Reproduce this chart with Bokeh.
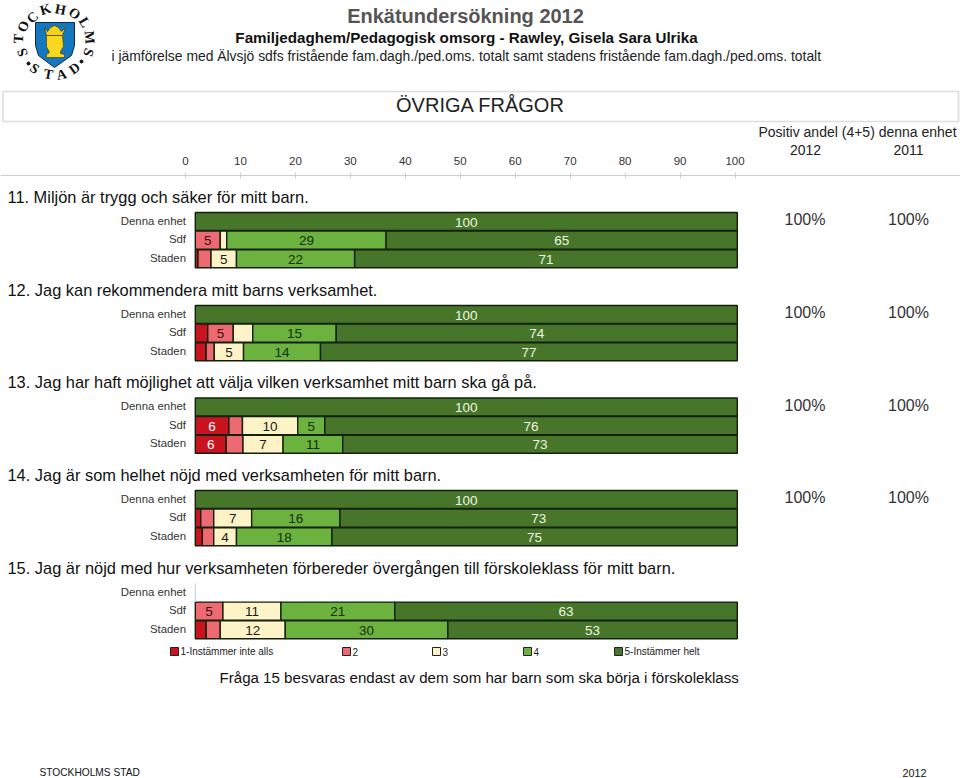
import math
from bokeh.plotting import figure
from bokeh.models import Range1d, LinearAxis, ColumnDataSource, FixedTicker
from bokeh.core.properties import value
from bokeh.embed import file_html
from bokeh.resources import INLINE

# ---- data ----
LEVELS = ["1-Instämmer inte alls", "2", "3", "4", "5-Instämmer helt"]
QUESTIONS = [
    "11. Miljön är trygg och säker för mitt barn.",
    "12. Jag kan rekommendera mitt barns verksamhet.",
    "13. Jag har haft möjlighet att välja vilken verksamhet mitt barn ska gå på.",
    "14. Jag är som helhet nöjd med verksamheten för mitt barn.",
    "15. Jag är nöjd med hur verksamheten förbereder övergången till förskoleklass för mitt barn.",
]
ROWS = ["Denna enhet", "Sdf", "Staden"]
DENNA = [
    [0, 0, 0, 0, 100],
    [0, 0, 0, 0, 100],
    [0, 0, 0, 0, 100],
    [0, 0, 0, 0, 100],
    None,
]
SDF = [
    [0, 4.6, 1.2, 29.4, 64.8],
    [2.3, 4.7, 3.6, 15.4, 74.0],
    [6.2, 2.5, 10.2, 5.0, 76.1],
    [1.0, 2.4, 7.0, 16.3, 73.3],
    [0, 5.1, 10.7, 21.0, 63.2],
]
STADEN = [
    [0.5, 2.4, 4.7, 21.8, 70.6],
    [2.0, 1.5, 5.4, 14.2, 76.9],
    [5.7, 3.1, 7.4, 11.0, 72.8],
    [1.3, 2.1, 4.2, 17.6, 74.8],
    [2.0, 2.6, 12.0, 30.0, 53.4],
]
POS_2012 = ["100%", "100%", "100%", "100%", None]
POS_2011 = ["100%", "100%", "100%", "100%", None]
AXIS_TICKS = [0, 10, 20, 30, 40, 50, 60, 70, 80, 90, 100]

# ---- style / layout ----
COLORS = ["#c9141f", "#ee6a72", "#fdf3c6", "#6cb23e", "#47762a"]
LABEL_COLORS = ["#ffffff", "#3a1010", "#1a1a1a", "#12300a", "#eef5e0"]
EDGE = "#12200c"
W, H = 960, 778
FONT = value("Liberation Sans")
X0, PX_PER = 194.8, 5.42
AX0, AX_PER = 185.0, 5.495
Q_Y = [197, 290, 382.5, 475, 568]
FIRST_ROW = [221, 314, 406.5, 499, 592]
ROW_H = 18.6

p = figure(width=W, height=H, output_backend="svg", toolbar_location=None,
           x_range=Range1d(-X0 / PX_PER, (W - X0) / PX_PER),
           y_range=Range1d(H, 0),
           x_axis_location=None, y_axis_location=None,
           min_border=0, min_border_left=0, min_border_right=0,
           min_border_top=0, min_border_bottom=0, margin=0)
p.extra_x_ranges = {"px": Range1d(0, W),
                    "axis": Range1d(-AX0 / AX_PER, (W - AX0) / AX_PER)}
p.grid.visible = False
p.outline_line_color = None
p.background_fill_color = "#ffffff"


def txt(x, y, s, size, color="#111111", align="left", style="normal", font=FONT, angle=0):
    p.text(x=[x], y=[y - 1], text=[s], x_range_name="px", text_font=font,
           text_font_size=f"{size}px", text_color=color, text_align=align,
           text_baseline="middle", text_font_style=style, angle=[angle])


# header
txt(465, 16, "Enkätundersökning 2012", 20, "#555555", "center", "bold")
txt(466, 37.5, "Familjedaghem/Pedagogisk omsorg - Rawley, Gisela Sara Ulrika", 15.2, "#111111", "center", "bold")
txt(111, 56, "i jämförelse med Älvsjö sdfs fristående fam.dagh./ped.oms. totalt samt stadens fristående fam.dagh./ped.oms. totalt", 13.9, "#222222")
p.quad(left=[2.5], right=[958], top=[91], bottom=[121], x_range_name="px",
       fill_color="#ffffff", line_color="#dddddd", line_width=1.6)
txt(480, 105, "ÖVRIGA FRÅGOR", 20, "#222222", "center")
txt(857, 132.5, "Positiv andel (4+5) denna enhet", 14, "#222222", "center")
txt(805, 150, "2012", 14, "#222222", "center")
txt(908, 150, "2011", 14, "#222222", "center")

# logo
p.patch(x=[35, 74, 74, 71, 54, 38, 35], y=[22, 22, 45, 55, 67, 55, 45], x_range_name="px",
        fill_color="#1577bd", line_color="#0c2a44", line_width=1)
p.patch(x=[44, 47, 50, 54, 58, 61, 65, 62, 46], y=[27, 31, 27, 25, 27, 31, 27, 35, 35], x_range_name="px",
        fill_color="#f4d11f", line_color="#3a3a10", line_width=0.7)
p.patch(x=[46, 62, 63, 60, 60, 64, 64, 46, 46, 49, 46], y=[35, 35, 46, 51, 53, 54, 57, 57, 54, 52, 46], x_range_name="px",
        fill_color="#f7d81f", line_color="#4a4210", line_width=0.7)
CX, CY = 54, 41
for ch, lx, ly in [("S", 22, 53), ("T", 18, 39), ("O", 23, 27), ("C", 32, 18), ("K", 45, 10),
                   ("H", 60, 10), ("O", 74, 14), ("L", 84, 23), ("M", 89, 38), ("S", 88, 53)]:
    a = -math.atan2(lx - CX, CY - ly)
    txt(lx, ly, ch, 14, "#111111", "center", "bold", value("Liberation Serif"), a)
for ch, lx, ly in [("S", 34, 69), ("T", 48, 75), ("A", 61, 75), ("D", 74, 69)]:
    a = math.atan2(lx - CX, ly - CY)
    txt(lx, ly, ch, 14, "#111111", "center", "bold", value("Liberation Serif"), a)
p.scatter(x=[28, 81], y=[63, 61], x_range_name="px", size=3, color="#111111")

# percent axis
axis = LinearAxis(x_range_name="axis", fixed_location=175, ticker=FixedTicker(ticks=AXIS_TICKS))
axis.axis_line_color = "#cccccc"
axis.major_tick_line_color = "#cccccc"
axis.major_tick_in = 3
axis.major_tick_out = 3
axis.minor_tick_line_color = None
axis.major_label_text_font = "Liberation Sans"
axis.major_label_text_font_size = "11.5px"
axis.major_label_text_color = "#333333"
axis.major_label_standoff = 8
p.add_layout(axis, "above")

# questions, bars
for i, q in enumerate(QUESTIONS):
    txt(7, Q_Y[i], q, 16.4, "#111111")
    rows = [DENNA[i], SDF[i], STADEN[i]]
    for r, name in enumerate(ROWS):
        y = FIRST_ROW[i] + r * ROW_H
        txt(185.5, y, name, 11.4, "#333333", "right")
        vals = rows[r]
        if vals is None:
            continue
        left = 0.0
        seg = dict(left=[], right=[], y=[], color=[])
        lab = dict(x=[], y=[], text=[], color=[])
        for k, v in enumerate(vals):
            if v > 0:
                seg["left"].append(left)
                seg["right"].append(left + v)
                seg["y"].append(y)
                seg["color"].append(COLORS[k])
                if v >= 4:
                    lab["x"].append(left + v / 2)
                    lab["y"].append(y + 0.5)
                    lab["text"].append(str(round(v)))
                    lab["color"].append(LABEL_COLORS[k])
            left += v
        p.hbar(y="y", left="left", right="right", height=ROW_H - 0.6, fill_color="color",
               line_color=EDGE, line_width=1.4, source=ColumnDataSource(seg))
        p.text(x="x", y="y", text="text", text_color="color", text_font=FONT,
               text_font_size="13.5px", text_align="center", text_baseline="middle",
               source=ColumnDataSource(lab))
    if POS_2012[i]:
        txt(804.5, FIRST_ROW[i] - 1, POS_2012[i], 16, "#333333", "center")
        txt(908, FIRST_ROW[i] - 1, POS_2011[i], 16, "#333333", "center")

# empty row baseline for question 15
p.segment(x0=[0], x1=[0], y0=[FIRST_ROW[4] - ROW_H / 2], y1=[FIRST_ROW[4] + ROW_H / 2],
          line_color="#cccccc", line_width=1)

# legend
LEG_X = [170, 342, 432, 523, 614]
for k, name in enumerate(LEVELS):
    p.quad(left=[LEG_X[k]], right=[LEG_X[k] + 8], top=[647], bottom=[655], x_range_name="px",
           fill_color=COLORS[k], line_color="#222222", line_width=1)
    txt(LEG_X[k] + 10, 652, name, 10, "#222222")

txt(219, 678, "Fråga 15 besvaras endast av dem som har barn som ska börja i förskoleklass", 15.1, "#111111")
txt(39, 773, "STOCKHOLMS STAD", 10.2, "#111111")
txt(926, 773, "2012", 10.8, "#111111", "right")

open("out.html", "w").write(file_html(p, INLINE))
